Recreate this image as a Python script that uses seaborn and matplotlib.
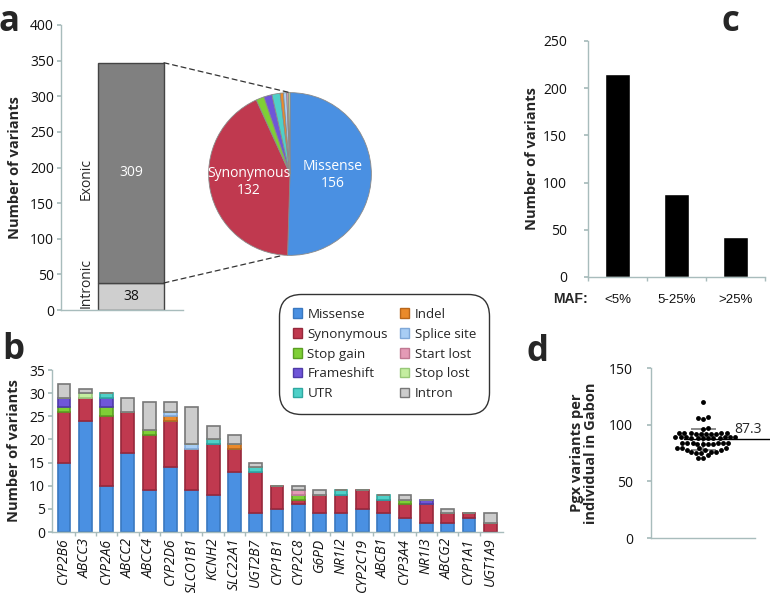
import numpy as np
import pandas as pd
import matplotlib
matplotlib.use("Agg")
import matplotlib.pyplot as plt
import seaborn as sns
from matplotlib.patches import ConnectionPatch, Patch

# ---------------- data ----------------
# a: intronic / exonic split and the exonic classes in the pie
region_labels = ["Intronic", "Exonic"]
region_counts = [38, 309]

variant_classes = ["Missense", "Synonymous", "Stop gain", "Frameshift", "UTR",
                   "Indel", "Splice site", "Start lost", "Stop lost", "Intron"]
pie_counts = [156, 132, 5, 5, 5, 2, 2, 1, 1]

# b: variants per gene, stacked by class
genes = ["CYP2B6", "ABCC3", "CYP2A6", "ABCC2", "ABCC4", "CYP2D6", "SLCO1B1",
         "KCNH2", "SLC22A1", "UGT2B7", "CYP1B1", "CYP2C8", "G6PD", "NR1I2",
         "CYP2C19", "ABCB1", "CYP3A4", "NR1I3", "ABCG2", "CYP1A1", "UGT1A9"]
missense   = [15, 24, 10, 17, 9, 14, 9, 8, 13, 4, 5, 6, 4, 4, 5, 4, 3, 2, 2, 3, 0]
synonymous = [11, 5, 15, 9, 12, 10, 9, 11, 5, 9, 5, 1, 4, 4, 4, 3, 3, 4, 2, 1, 2]
stop_gain  = [1, 0, 2, 0, 1, 0, 0, 0, 0, 0, 0, 1, 0, 0, 0, 0, 1, 0, 0, 0, 0]
frameshift = [2, 0, 2, 0, 0, 0, 0, 0, 0, 0, 0, 0, 0, 0, 0, 0, 0, 1, 0, 0, 0]
utr        = [0, 0, 1, 0, 0, 0, 0, 1, 0, 1, 0, 0, 0, 1, 0, 1, 0, 0, 0, 0, 0]
indel      = [0, 0, 0, 0, 0, 1, 0, 0, 1, 0, 0, 0, 0, 0, 0, 0, 0, 0, 0, 0, 0]
splice     = [0, 0, 0, 0, 0, 1, 1, 0, 0, 0, 0, 0, 0, 0, 0, 0, 0, 0, 0, 0, 0]
start_lost = [0, 0, 0, 0, 0, 0, 0, 0, 0, 0, 0, 1, 0, 0, 0, 0, 0, 0, 0, 0, 0]
stop_lost  = [0, 1, 0, 0, 0, 0, 0, 0, 0, 0, 0, 0, 0, 0, 0, 0, 0, 0, 0, 0, 0]
intron     = [3, 1, 0, 3, 6, 2, 8, 3, 2, 1, 0, 1, 1, 0, 0, 0, 1, 0, 1, 0, 2]

# c: minor allele frequency bins
maf_bins = ["<5%", "5-25%", ">25%"]
maf_counts = [215, 88, 42]

# d: Pgx variants per individual
pgx_counts = [120, 107, 106, 105, 97, 96,
              93, 93, 93, 93, 93, 92, 92, 92, 92, 92,
              89, 89, 89, 89, 89, 89, 88, 88, 88, 88, 88, 88,
              84, 84, 84, 84, 84, 84, 83, 83, 83, 83,
              79, 79, 79, 79, 78, 78, 78,
              76, 76, 76, 75, 75,
              73, 71, 71]
pgx_mean = 87.3
pgx_sd = 9.3

# ---------------- style ----------------
face_cols = ["#4a90e2", "#c0394f", "#7fcf36", "#6f56d8", "#4fd0c8",
             "#ea8a2a", "#a8cdf4", "#e49bb6", "#c4eea0", "#cccccc"]
edge_cols = ["#3a78c0", "#96283b", "#5a9e22", "#4f3aa8", "#2fa8a0",
             "#b8661a", "#7fa8d8", "#c07892", "#98c878", "#777777"]
spine_col = "#a8bcbc"

sns.set_theme(style="white")
plt.rcParams['font.family'] = ['Open Sans', 'DejaVu Sans']
plt.rcParams['font.size'] = 9.5

fig = plt.figure(figsize=(7.7, 5.93), dpi=100)
W, H = 770, 593


def add_ax(l, t, r, b):
    return fig.add_axes([l / W, 1 - b / H, (r - l) / W, (b - t) / H])


def style_axis(ax):
    sns.despine(ax=ax)
    for s in ["left", "bottom"]:
        ax.spines[s].set_color(spine_col)
        ax.spines[s].set_linewidth(1)
    ax.tick_params(axis="y", length=3, color=spine_col, direction="out",
                   labelsize=10, pad=2, left=True, labelcolor="#111")
    ax.tick_params(axis="x", labelcolor="#111")


# ---------------- panel a: bar ----------------
ax_a = add_ax(61, 25, 183, 310)
bar_x, bar_w = 0.574, 0.541
ax_a.bar(bar_x, region_counts[0], width=bar_w, color="#cfcfcf",
         edgecolor="#444", linewidth=1)
ax_a.bar(bar_x, region_counts[1], bottom=region_counts[0], width=bar_w,
         color="#808080", edgecolor="#444", linewidth=1)
ax_a.set_xlim(0, 1)
ax_a.set_ylim(0, 400)
ax_a.set_yticks(range(0, 401, 50))
ax_a.set_xticks([])
style_axis(ax_a)
ax_a.set_ylabel("Number of variants", fontsize=10.5, fontweight="bold", labelpad=6)
ax_a.text(bar_x, region_counts[0] + region_counts[1] / 2, str(region_counts[1]),
          color="white", ha="center", va="center", fontsize=10)
ax_a.text(bar_x, region_counts[0] / 2, str(region_counts[0]),
          color="#111", ha="center", va="center", fontsize=10)
ax_a.text(0.21, region_counts[0] + region_counts[1] / 2 - 8, region_labels[1],
          rotation=90, ha="center", va="center", fontsize=10)
ax_a.text(0.21, 3, region_labels[0], rotation=90, ha="center", va="bottom",
          fontsize=10)

# ---------------- panel a: pie ----------------
ax_p = add_ax(207, 91, 373, 257)
labels = ["Synonymous\n%d" % pie_counts[1] if c == "Synonymous" else
          ("Missense\n%d" % pie_counts[0] if c == "Missense" else "")
          for c in variant_classes[:9]]
wedges, texts = ax_p.pie(pie_counts, colors=face_cols[:9], startangle=90,
                         counterclock=False, labels=labels, labeldistance=0.52,
                         wedgeprops=dict(linewidth=0.6, edgecolor="#8a8a8a"),
                         textprops=dict(color="white", fontsize=10, ha="center",
                                        va="center", linespacing=1.2))
ax_p.set_xlim(-1.02, 1.02)
ax_p.set_ylim(-1.02, 1.02)
ax_p.set_aspect("equal")
ax_p.axis("off")

total = sum(region_counts)
for ya, xyb in [(total, (0, 1)), (region_counts[0], (-0.09, -1))]:
    con = ConnectionPatch(xyA=(bar_x + bar_w / 2, ya), coordsA=ax_a.transData,
                          xyB=xyb, coordsB=ax_p.transData, color="#333",
                          linewidth=0.9, linestyle=(0, (4, 3)))
    fig.add_artist(con)

# ---------------- panel b: stacked bars ----------------
ax_b = add_ax(52, 370, 503, 532)
series = [missense, synonymous, stop_gain, frameshift, utr, indel, splice,
          start_lost, stop_lost, intron]
gene_df = pd.DataFrame(dict(zip(variant_classes, series)), index=genes)
xpos = np.arange(len(genes))
bottom = np.zeros(len(genes))
for i, cls in enumerate(variant_classes):
    vals = gene_df[cls].values
    ax_b.bar(xpos, vals, bottom=bottom, width=0.6, color=face_cols[i],
             edgecolor=edge_cols[i], linewidth=1.2)
    bottom += vals
ax_b.set_xlim(-0.56, 20.6)
ax_b.set_ylim(0, 35)
ax_b.set_yticks(range(0, 36, 5))
style_axis(ax_b)
ax_b.set_xticks(xpos)
ax_b.set_xticklabels(genes, rotation=90, fontstyle="italic", fontsize=10)
ax_b.set_xticks(xpos[:-1] + 0.5, minor=True)
ax_b.tick_params(axis="x", which="major", length=0, pad=4)
ax_b.tick_params(axis="x", which="minor", length=3, color=spine_col,
                 direction="out", bottom=True)
ax_b.set_ylabel("Number of variants", fontsize=10.5, fontweight="bold", labelpad=6)

# legend
handles = [Patch(facecolor=face_cols[i], edgecolor=edge_cols[i], linewidth=1,
                 label=variant_classes[i]) for i in range(10)]
leg = fig.legend(handles=handles, ncol=2, loc="upper left",
                 bbox_to_anchor=(282 / W, 1 - 297 / H), borderaxespad=0,
                 fontsize=9.6, handlelength=0.7, handleheight=0.7,
                 handletextpad=0.4, labelspacing=0.52, columnspacing=0.9,
                 borderpad=0.8, frameon=True, fancybox=True)
frame = leg.get_frame()
frame.set_edgecolor("black")
frame.set_linewidth(1)
frame.set_boxstyle("round,pad=0.2,rounding_size=1.6")

# ---------------- panel c ----------------
ax_c = add_ax(588, 41, 765, 277)
sns.barplot(x=maf_bins, y=maf_counts, color="black", width=0.41,
            saturation=1, ax=ax_c)
ax_c.set_xlim(-0.5, 2.5)
ax_c.set_ylim(0, 250)
ax_c.set_yticks(range(0, 251, 50))
style_axis(ax_c)
ax_c.set_xticks([0, 1, 2])
ax_c.set_xticklabels(maf_bins, fontsize=9.5, family="Liberation Sans")
ax_c.set_xticks([-0.5, 0.5, 1.5, 2.5], minor=True)
ax_c.tick_params(axis="x", which="major", length=0, pad=12)
ax_c.tick_params(axis="x", which="minor", length=3, color=spine_col,
                 direction="out", bottom=True)
ax_c.tick_params(axis="y", pad=12)
ax_c.set_ylabel("Number of variants", fontsize=10.5, fontweight="bold", labelpad=3)
fig.text(571 / W, 1 - 299 / H, "MAF:", fontsize=10, fontweight="bold",
         family="Liberation Sans", ha="center", va="center")

# ---------------- panel d ----------------
ax_d = add_ax(651, 368, 755, 538)
sns.swarmplot(y=pgx_counts, color="black", size=3.5, ax=ax_d, zorder=3)
ax_d.errorbar(0, pgx_mean, yerr=pgx_sd, color="#777", capsize=9,
              elinewidth=1.2, capthick=1.2, zorder=2)
ax_d.plot([-0.18, 0.64], [pgx_mean, pgx_mean], color="black", lw=1,
          clip_on=False, zorder=4)
ax_d.text(0.43, pgx_mean + 2, "%.1f" % pgx_mean, ha="center", va="bottom",
          fontsize=10)
ax_d.set_xlim(-0.5, 0.5)
ax_d.set_ylim(0, 150)
ax_d.set_yticks([0, 50, 100, 150])
ax_d.set_xticks([])
style_axis(ax_d)
ax_d.tick_params(axis="y", pad=10)
ax_d.set_ylabel("Pgx variants per\nindividual in Gabon", fontsize=10.5,
                fontweight="bold", labelpad=8, linespacing=1.0)

# panel letters
for lab, (px, py) in {"a": (9, 22), "b": (13, 350), "c": (730, 22),
                      "d": (538, 352)}.items():
    fig.text(px / W, 1 - py / H, lab, fontsize=25, fontweight="bold",
             ha="center", va="center")

fig.savefig("out.png", dpi=100)
